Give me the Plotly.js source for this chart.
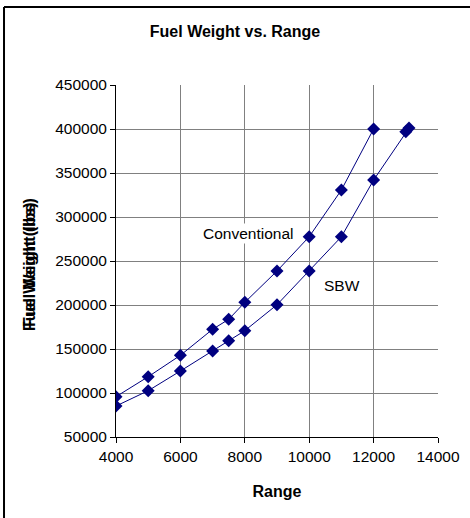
<!DOCTYPE html>
<html>
<head>
<meta charset="utf-8">
<script src="https://cdn.plot.ly/plotly-3.0.1.min.js"></script>
<style>html,body{margin:0;padding:0;background:#fff;}#chart{width:470px;height:518px;}</style>
</head>
<body>
<div id="chart"></div>
<script>
var convRange = [4000, 5000, 6000, 7000, 7500, 8000, 9000, 10000, 11000, 12000];
var convFuel  = [95800, 118500, 142800, 172400, 183700, 203000, 238600, 277600, 330700, 400000];
var sbwRange  = [4000, 5000, 6000, 7000, 7500, 8000, 9000, 10000, 11000, 12000, 13000, 13100];
var sbwFuel   = [85200, 102600, 125000, 147700, 159400, 170800, 200300, 238600, 277600, 342000, 397000, 401000];
var xTicks = [4000, 6000, 8000, 10000, 12000, 14000];
var yTicks = [50000, 100000, 150000, 200000, 250000, 300000, 350000, 400000, 450000];

var font = 'Arial, "Liberation Sans", sans-serif';
var navy = '#000080';

function series(x, y, name) {
  return {
    x: x, y: y, name: name, type: 'scatter', mode: 'lines+markers',
    line: {color: navy, width: 1},
    marker: {symbol: 'diamond', size: 10, color: navy},
    showlegend: false, hoverinfo: 'skip'
  };
}

var data = [series(convRange, convFuel, 'Conventional'), series(sbwRange, sbwFuel, 'SBW')];

var layout = {
  width: 470, height: 518,
  margin: {l: 116, r: 32, t: 85, b: 81, pad: 0},
  paper_bgcolor: '#fff', plot_bgcolor: '#fff',
  font: {family: font, size: 15.5, color: '#000'},
  title: {text: '<b>Fuel Weight vs. Range</b>', font: {family: font, size: 16, color: '#000'},
          x: 0.5, xanchor: 'center', xref: 'container', y: 1 - 31/518, yanchor: 'middle', yref: 'container'},
  xaxis: {
    range: [4000, 14000], tickvals: xTicks, ticktext: xTicks.map(String),
    showgrid: true, gridcolor: '#808080', gridwidth: 1,
    showline: true, linecolor: '#000', linewidth: 1,
    ticks: 'outside', ticklen: 5, tickcolor: '#000',
    zeroline: false, tickfont: {family: font, size: 15.5, color: '#000'},
    title: {text: '<b>Range</b>', font: {family: font, size: 16, color: '#000'}, standoff: 22}
  },
  yaxis: {
    range: [50000, 450000], tickvals: yTicks, ticktext: yTicks.map(String),
    showgrid: true, gridcolor: '#808080', gridwidth: 1,
    showline: true, linecolor: '#000', linewidth: 1,
    ticks: 'outside', ticklen: 5, tickcolor: '#000',
    zeroline: false, tickfont: {family: font, size: 15.5, color: '#000'}
  },
  shapes: [
    {type: 'line', xref: 'paper', yref: 'paper', x0: -0.3478, x1: 1.2, y0: 1.2216, y1: 1.2216, line: {color: '#000', width: 2}},
    {type: 'line', xref: 'paper', yref: 'paper', x0: -0.3478, x1: -0.3478, y0: 1.2216, y1: -0.3, line: {color: '#000', width: 2}}
  ],
  annotations: [
    {text: 'Conventional', x: 8100, y: 280700, xref: 'x', yref: 'y', showarrow: false,
     xanchor: 'center', yanchor: 'middle',
     font: {family: font, size: 15.5, color: '#000'}, bgcolor: '#fff', borderpad: 1},
    {text: 'SBW', x: 11020, y: 222700, xref: 'x', yref: 'y', showarrow: false,
     xanchor: 'center', yanchor: 'middle',
     font: {family: font, size: 15.5, color: '#000'}},
    {text: '<b>Fuel Weight (lbs)</b>', textangle: -90, xref: 'paper', yref: 'paper',
     x: -0.267, y: 0.483, xanchor: 'center', yanchor: 'middle', showarrow: false,
     font: {family: font, size: 16, color: '#000'}},
    {text: '<b>Fuel Weight (lbs)</b>', textangle: -90, xref: 'paper', yref: 'paper',
     x: -0.267, y: 0.495, xanchor: 'center', yanchor: 'middle', showarrow: false,
     font: {family: font, size: 16, color: '#000'}}
  ]
};

Plotly.newPlot('chart', data, layout, {staticPlot: true, displayModeBar: false});
</script>
</body>
</html>
